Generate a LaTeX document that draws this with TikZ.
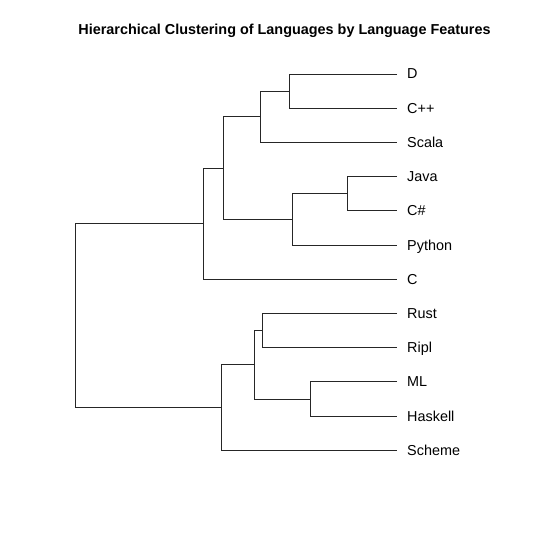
\documentclass[tikz,border=0pt]{standalone}
\usepackage{fontspec}
\setmainfont{Liberation Sans}
\begin{document}
\begin{tikzpicture}[x=1bp,y=-1bp,
  link/.style={draw=black!85, line width=0.7bp},
  leaflabel/.style={anchor=base west, inner sep=0pt, font=\fontsize{14.4bp}{16bp}\selectfont},
  titlelabel/.style={anchor=base, inner sep=0pt, font=\fontsize{14.4bp}{16bp}\selectfont\bfseries}]
\useasboundingbox[fill=white] (0,0) rectangle (540,540);
\node[titlelabel] (title) at (284.5,35) {Hierarchical Clustering of Languages by Language Features};
% leaves
\def\lx{397}
\foreach \nm/\yy/\lab in {D/74/D, Cpp/108.2/C++, Scala/142.4/Scala, Java/176.6/Java, Cs/210.8/C\#, Python/245/Python, C/279.2/C, Rust/313.4/Rust, Ripl/347.6/Ripl, ML/381.8/ML, Haskell/416/Haskell, Scheme/450.2/Scheme}{
  \coordinate (\nm) at (\lx,\yy);
  \node[leaflabel] (lab\nm) at (407,\yy+5) {\lab};
}
% merge points
\coordinate (m1) at (289.3,91.1);
\coordinate (m2) at (260.3,116.75);
\coordinate (m3) at (347.7,193.7);
\coordinate (m4) at (292,219.35);
\coordinate (m5) at (223.3,168.05);
\coordinate (m6) at (203.3,223.6);
\coordinate (m7) at (262.3,330.5);
\coordinate (m8) at (310,398.9);
\coordinate (m9) at (254.3,364.7);
\coordinate (m10) at (221,407.45);
\coordinate (root) at (75.3,315.5);
\foreach \p/\a/\b in {m1/D/Cpp, m2/m1/Scala, m3/Java/Cs, m4/m3/Python, m5/m2/m4, m6/m5/C, m7/Rust/Ripl, m8/ML/Haskell, m9/m7/m8, m10/m9/Scheme, root/m6/m10}{
  \draw[link] (\a) -- (\a -| \p) -- (\b -| \p) -- (\b);
}
\end{tikzpicture}
\end{document}
